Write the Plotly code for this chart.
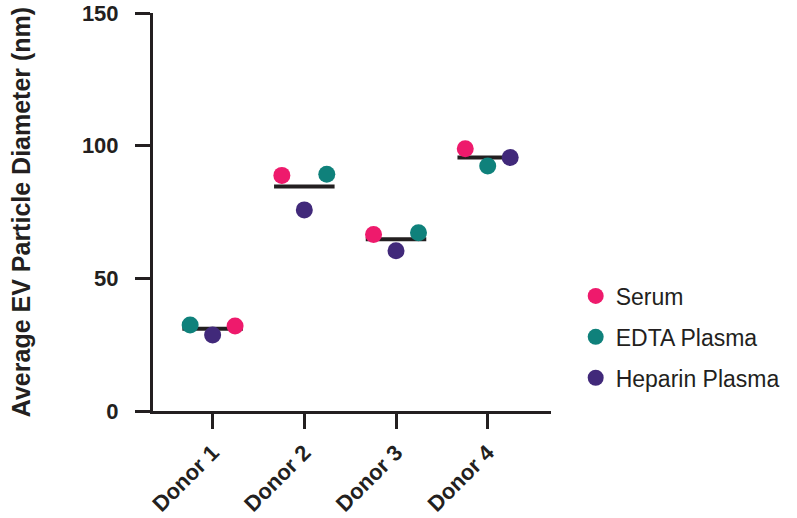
import plotly.graph_objects as go

donors = ["Donor 1", "Donor 2", "Donor 3", "Donor 4"]
serum = [32.0, 88.8, 66.5, 98.8]
edta = [32.4, 89.2, 67.2, 92.3]
heparin = [28.6, 75.8, 60.4, 95.5]

# horizontal jitter slot per donor (-1 left, 0 centre, 1 right)
serum_slot = [1, -1, -1, -1]
edta_slot = [-1, 1, 1, 0]
heparin_slot = [0, 0, 0, 1]

colors = {"Serum": "#EE1A6C", "EDTA Plasma": "#0F817B", "Heparin Plasma": "#41297A"}
ink = "#231F20"
jit = 0.245
half = 0.33

fig = go.Figure()

# mean lines
mx, my = [], []
for i in range(len(donors)):
    m = (serum[i] + edta[i] + heparin[i]) / 3
    mx += [i - half, i + half, None]
    my += [m, m, None]
fig.add_trace(go.Scatter(x=mx, y=my, mode="lines", line=dict(color=ink, width=4),
                         showlegend=False, hoverinfo="skip"))

for name, vals, slots in [("Serum", serum, serum_slot),
                          ("EDTA Plasma", edta, edta_slot),
                          ("Heparin Plasma", heparin, heparin_slot)]:
    fig.add_trace(go.Scatter(
        x=[i + s * jit for i, s in enumerate(slots)], y=vals, mode="markers", name=name,
        legendgroup=name,
        marker=dict(color=colors[name], size=17, line=dict(width=0)),
    ))

axis_common = dict(showline=True, linecolor=ink, linewidth=3, ticks="outside",
                   ticklen=15, tickwidth=3, tickcolor=ink, showgrid=False, zeroline=False,
                   automargin=False, ticklabeloverflow="allow")

fig.update_layout(
    width=797, height=518,
    margin=dict(l=153, r=243, t=13, b=107),
    plot_bgcolor="white", paper_bgcolor="white",
    font=dict(family="Liberation Sans", color=ink),
    xaxis=dict(range=[-0.65, 3.69], tickvals=list(range(len(donors))),
               ticktext=["<b>%s</b>" % d for d in donors], tickangle=-45,
               tickfont=dict(family="Liberation Sans", size=22, color=ink),
               ticklabelstandoff=2, **axis_common),
    yaxis=dict(range=[0, 150], tickvals=[0, 50, 100, 150],
               ticktext=["<b>%d</b>" % v for v in [0, 50, 100, 150]],
               tickfont=dict(family="Liberation Sans", size=22, color=ink),
               ticklabelstandoff=12,
               title=dict(text="<b>Average EV Particle Diameter (nm)</b>",
                          font=dict(size=25, color=ink), standoff=45),
               **axis_common),
    legend=dict(x=1.062, y=0.186, yanchor="middle", xanchor="left",
                font=dict(family="Liberation Sans", size=23, color=ink),
                tracegroupgap=8, traceorder="grouped", itemsizing="trace"),
)

fig.write_html("out.html", config={"displayModeBar": False},
               post_script="document.body.style.margin='0';document.body.style.overflow='hidden';")
